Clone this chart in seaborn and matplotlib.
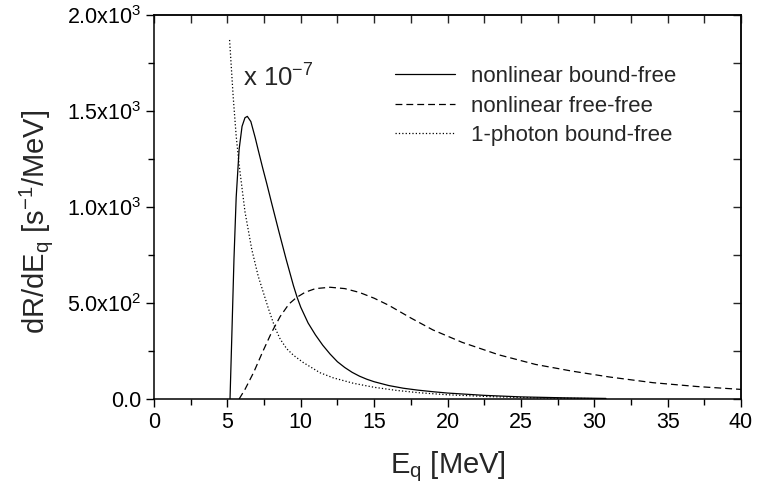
import numpy as np
import pandas as pd
import matplotlib
matplotlib.use("Agg")
import matplotlib.pyplot as plt
import seaborn as sns

# ---- data ----
E_bf = [5.18, 5.3, 5.45, 5.6, 5.8, 6.0, 6.2, 6.36, 6.6, 6.9, 7.1, 7.4, 7.68, 8.0, 8.5, 9.0,
        9.5, 9.75, 10.0, 10.5, 11.0, 11.5, 12.0, 12.5, 13.0, 13.5, 14.0, 14.5, 15.0, 16.0,
        17.0, 18.0, 19.0, 20.0, 22.5, 25.0, 28.0, 30.8]
R_bf = [0, 320, 730, 1050, 1300, 1420, 1465, 1472, 1445, 1360, 1297, 1205, 1123, 1025, 875, 729,
        591, 530, 478, 396, 334, 280, 234, 194, 164, 139, 119, 103, 90, 70,
        56, 46, 38, 31, 19, 11, 6, 3]

E_ff = [5.8, 6.2, 6.8, 7.4, 8.0, 8.6, 9.2, 9.7, 10.3, 11.0, 12.0, 13.0, 14.0, 15.0, 16.0,
        17.5, 19.0, 21.0, 23.5, 26.0, 28.5, 31.0, 34.0, 37.0, 40.0]
R_ff = [0, 50, 140, 245, 345, 430, 495, 528, 556, 575, 582, 575, 555, 525, 488,
        422, 360, 295, 230, 180, 145, 115, 85, 65, 50]

E_1p = [5.15, 5.4, 5.6, 5.8, 6.2, 6.66, 7.1, 7.8, 8.25, 8.6, 9.04, 9.5, 10.17, 11.31, 12.22,
        13.58, 15.0, 16.5, 18.0, 20.0, 23.0, 26.0, 30.0]
R_1p = [1870, 1570, 1370, 1220, 975, 780, 640, 470, 370, 312, 262, 228, 190, 137, 110,
        82, 61, 45, 33, 22, 12, 6, 2]

labels = ["nonlinear bound-free", "nonlinear free-free", "1-photon bound-free"]
x_ticks = [0, 5, 10, 15, 20, 25, 30, 35, 40]
x_ticklabels = ["0", "5", "10", "15", "20", "25", "30", "35", "40"]
y_ticks = [0, 500, 1000, 1500, 2000]
y_ticklabels = ["0.0", r"5.0x10$^{2}$", r"1.0x10$^{3}$", r"1.5x10$^{3}$", r"2.0x10$^{3}$"]

# ---- style ----
sns.set_style("ticks")
plt.rcParams["font.family"] = ["Liberation Sans", "DejaVu Sans"]
plt.rcParams["mathtext.fontset"] = "custom"
plt.rcParams["mathtext.rm"] = "Liberation Sans"
plt.rcParams["mathtext.it"] = "Liberation Sans:italic"
plt.rcParams["mathtext.bf"] = "Liberation Sans:bold"
plt.rcParams["mathtext.sf"] = "Liberation Sans"

fig = plt.figure(figsize=(7.58, 4.88), dpi=100)
ax = fig.add_axes([154/758, 1-399/488, (741-154)/758, (399-15)/488])

LW = 0.9
sns.lineplot(x=E_bf, y=R_bf, ax=ax, color="black", lw=LW, label=labels[0], sort=False)
sns.lineplot(x=E_ff, y=R_ff, ax=ax, color="black", lw=LW, label=labels[1], sort=False,
             linestyle=(0, (5.5, 3.2)))
sns.lineplot(x=E_1p, y=R_1p, ax=ax, color="black", lw=LW, label=labels[2], sort=False,
             linestyle=(0, (1, 1.7)))

ax.set_xlim(0, 40)
ax.set_ylim(0, 2000)
ax.set_xticks(x_ticks)
ax.set_xticklabels(x_ticklabels)
ax.set_yticks(y_ticks)
ax.set_yticklabels(y_ticklabels)
ax.set_xticks(np.arange(0, 40.01, 2.5), minor=True)
ax.set_yticks(np.arange(0, 2000.1, 250), minor=True)

ax.tick_params(axis="both", which="major", direction="out", length=6, width=1,
               labelsize=15.5, color="black", labelcolor="black", pad=3)
ax.tick_params(axis="both", which="minor", direction="out", length=4, width=1, color="black")
for s in ax.spines.values():
    s.set_linewidth(1.1)
    s.set_color("black")
    s.set_visible(True)

# inward ticks on top and right
top = ax.secondary_xaxis("top")
top.set_xticks(x_ticks)
top.set_xticks(np.arange(0, 40.01, 2.5), minor=True)
top.tick_params(which="both", direction="in", length=6, width=1, labeltop=False)
top.set_xticklabels([])
top.spines["top"].set_linewidth(1.1)
right = ax.secondary_yaxis("right")
right.set_yticks(y_ticks)
right.set_yticks(np.arange(0, 2000.1, 250), minor=True)
right.tick_params(which="both", direction="in", length=6, width=1, labelright=False)
right.set_yticklabels([])
right.spines["right"].set_linewidth(1.1)

ax.set_xlabel(r"E$_\mathrm{q}$ [MeV]", fontsize=21, labelpad=12)
ax.set_ylabel(r"dR/dE$_\mathrm{q}$ [s$^{\mathrm{-1}}$/MeV]", fontsize=21)
ax.yaxis.set_label_coords((55-154)/587, (399-222)/384)

ax.text(243/758, 1-78/488, r"x 10$^{\mathrm{-7}}$", transform=fig.transFigure,
        fontsize=18.5, va="center", ha="left")

leg = ax.legend(loc="center left", bbox_to_anchor=(395/758, 1-106/488),
                bbox_transform=fig.transFigure, frameon=False, fontsize=16,
                handlelength=2.7, handletextpad=0.7, labelspacing=0.38,
                borderpad=0, borderaxespad=0)

fig.savefig("out.png", dpi=100)
